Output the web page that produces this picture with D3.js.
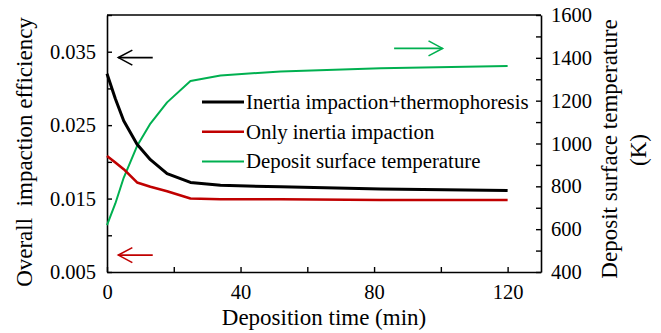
<!DOCTYPE html>
<html>
<head>
<meta charset="utf-8">
<script src="https://cdn.jsdelivr.net/npm/d3@7"></script>
<style>
  html, body { margin: 0; padding: 0; background: #fff; }
  svg { display: block; }
</style>
</head>
<body>
<svg id="chart" width="661" height="333"></svg>
<script>
// Data
const times = [0, 2.5, 5, 9, 13, 18, 25, 34, 52, 82, 120];
const inertiaThermo = [0.0320, 0.0286, 0.0256, 0.0224, 0.0203, 0.0184, 0.0172, 0.0168, 0.0166, 0.0163, 0.0161];
const inertiaOnly = [0.0208, 0.0199, 0.0190, 0.0172, 0.0166, 0.0160, 0.0150, 0.0149, 0.0149, 0.0148, 0.0148];
const surfaceTemp = [619, 720, 840, 988, 1093, 1192, 1292, 1318, 1336, 1351, 1362];

const xTicks = [0, 20, 40, 60, 80, 100, 120];
const xLabels = [0, 40, 80, 120];
const yLeftTicks = [0.005, 0.01, 0.015, 0.02, 0.025, 0.03, 0.035, 0.04];
const yLeftLabels = [0.005, 0.015, 0.025, 0.035];
const yRightTicks = [400, 500, 600, 700, 800, 900, 1000, 1100, 1200, 1300, 1400, 1500, 1600];
const yRightLabels = [400, 600, 800, 1000, 1200, 1400, 1600];

const seriesNames = ["Inertia impaction+thermophoresis", "Only inertia impaction", "Deposit surface temperature"];
const seriesColors = ["#000000", "#c00000", "#00b050"];

//Setup
const FONT = '"Liberation Serif", "Times New Roman", Tinos, serif';
const margins = { top: 15, right: 120, bottom: 61, left: 107 };
const width = 661, height = 333;
const svg = d3.select('#chart').style('font-family', FONT);

const x = d3.scaleLinear([0, 130], [margins.left, width - margins.right]);
const yLeft = d3.scaleLinear([0.005, 0.04], [height - margins.bottom, margins.top]);
const yRight = d3.scaleLinear([400, 1600], [height - margins.bottom, margins.top]);

const translate = (a, b) => `translate(${a}, ${b})`;
const fmtLabel = (list, f) => d => list.includes(d) ? f(d) : '';

//Axes (ticks point inward)
const xAxis = d3.axisBottom(x).tickValues(xTicks).tickSizeInner(-5).tickSizeOuter(0).tickPadding(12)
    .tickFormat(fmtLabel(xLabels, d3.format('d')));
const gx = svg.append('g').attr('transform', translate(0, height - margins.bottom)).call(xAxis);

const leftAxis = d3.axisLeft(yLeft).tickValues(yLeftTicks).tickSizeInner(-5).tickSizeOuter(0).tickPadding(11)
    .tickFormat(fmtLabel(yLeftLabels, d3.format('.3f')));
const gl = svg.append('g').attr('transform', translate(margins.left, 0)).call(leftAxis);

const rightAxis = d3.axisRight(yRight).tickValues(yRightTicks).tickSizeInner(-5).tickSizeOuter(0).tickPadding(10)
    .tickFormat(fmtLabel(yRightLabels, d3.format('d')));
const gr = svg.append('g').attr('transform', translate(width - margins.right, 0)).call(rightAxis);

[gx, gl, gr].forEach(g => {
    g.attr('font-family', null).attr('font-size', null);
    g.selectAll('path.domain').attr('stroke', '#000').attr('stroke-width', 1.6);
    g.selectAll('.tick line').attr('stroke', '#000').attr('stroke-width', 1.4);
    g.selectAll('.tick text').attr('fill', '#000')
        .style('font-family', FONT).style('font-size', '20.5px');
});

// top border
svg.append('line')
    .attr('x1', margins.left).attr('x2', width - margins.right)
    .attr('y1', margins.top).attr('y2', margins.top)
    .attr('stroke', '#000').attr('stroke-width', 1.6);

//Titles
const title = (tr, txt) => svg.append('text')
    .attr('transform', tr)
    .attr('text-anchor', 'middle')
    .style('font-family', FONT)
    .style('font-size', '23px')
    .attr('fill', '#000')
    .text(txt);

title(translate((margins.left + width - margins.right) / 2, 325), 'Deposition time (min)');
title(translate(32, 152) + ' rotate(-90)', 'Overall\u00a0 impaction efficiency');
title(translate(617, 149) + ' rotate(-90)', 'Deposit surface temperature');
title(translate(646, 150) + ' rotate(-90)', '(K)');

//Lines
const lineLeft = d3.line().x((d, i) => x(times[i])).y(d => yLeft(d));
const lineRight = d3.line().x((d, i) => x(times[i])).y(d => yRight(d));

svg.append('path').datum(surfaceTemp)
    .attr('d', lineRight).attr('fill', 'none')
    .attr('stroke', seriesColors[2]).attr('stroke-width', 2).attr('stroke-linejoin', 'round');
svg.append('path').datum(inertiaOnly)
    .attr('d', lineLeft).attr('fill', 'none')
    .attr('stroke', seriesColors[1]).attr('stroke-width', 2.6).attr('stroke-linejoin', 'round');
svg.append('path').datum(inertiaThermo)
    .attr('d', lineLeft).attr('fill', 'none')
    .attr('stroke', seriesColors[0]).attr('stroke-width', 3).attr('stroke-linejoin', 'round');

//Legend
const legend = svg.append('g').attr('transform', translate(202, 102));
seriesNames.forEach((name, i) => {
    const row = legend.append('g').attr('transform', translate(0, i * 29.7));
    row.append('line').attr('x1', 0).attr('x2', 42).attr('y1', 0).attr('y2', 0)
        .attr('stroke', seriesColors[i]).attr('stroke-width', i === 0 ? 3 : (i === 1 ? 2.6 : 2));
    row.append('text').attr('x', 44).attr('y', 7)
        .style('font-family', FONT).style('font-size', '20.8px').attr('fill', '#000').text(name);
});

//Arrows pointing to the axis each curve uses
const drawArrow = (x1, x2, yPix, color, dir) => {
    const g = svg.append('g').attr('stroke', color).attr('stroke-width', 1.6).attr('fill', 'none');
    g.append('line').attr('x1', x1).attr('x2', x2).attr('y1', yPix).attr('y2', yPix);
    const tip = dir < 0 ? x1 : x2;
    const back = tip - dir * 14;
    g.append('path').attr('d', `M${back},${yPix - 7.5}L${tip},${yPix}L${back},${yPix + 7.5}`);
};
drawArrow(x(3.4), x(13.7), yLeft(0.0342), seriesColors[0], -1);
drawArrow(x(3.4), x(13.7), yLeft(0.0073), seriesColors[1], -1);
drawArrow(x(86), x(100.5), yRight(1444), seriesColors[2], 1);
</script>
</body>
</html>
